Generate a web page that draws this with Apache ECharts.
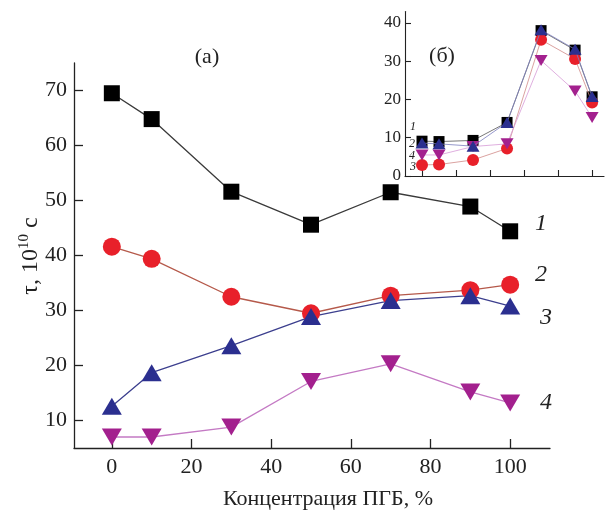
<!DOCTYPE html>
<html>
<head>
<meta charset="utf-8">
<script src="https://cdn.jsdelivr.net/npm/echarts@6/dist/echarts.min.js"></script>
<style>
  html, body { margin: 0; padding: 0; background: #fff; }
  #chart { width: 605px; height: 512px; }
</style>
</head>
<body>
<div id="chart"></div>
<script>
// концентрация ПГБ, %
const concentration = [0, 10, 30, 50, 70, 90, 100];
const xTicks = [0, 20, 40, 60, 80, 100];
const yTicksMain = [10, 20, 30, 40, 50, 60, 70];
const yTicksInset = [0, 10, 20, 30, 40];

// (а) tau, 10^10 c
const tau1 = [69.5, 64.8, 51.6, 45.6, 51.5, 48.9, 44.4];
const tau2 = [41.6, 39.4, 32.5, 29.5, 32.7, 33.7, 34.7];
const tau3 = [12.6, 18.7, 23.6, 28.9, 31.8, 32.7, 30.8];
const tau4 = [7.0, 7.0, 8.8, 17.1, 20.3, 15.2, 13.2];

// (б) inset
const inset1 = [9.1, 9.0, 9.3, 14.0, 38.0, 32.9, 20.7];
const inset2 = [2.9, 3.0, 4.2, 7.2, 35.6, 30.6, 19.2];
const inset3 = [8.6, 8.4, 7.8, 14.0, 38.2, 33.1, 20.8];
const inset4 = [5.5, 5.5, 7.7, 8.4, 30.2, 22.2, 15.3];

const serif = "Liberation Serif";
const pair = (ys) => concentration.map((x, i) => [x, ys[i]]);

const chart = echarts.init(document.getElementById("chart"));

function mainSeries(data, line, mark, symbol, size, rotate) {
  return {
    type: "line",
    xAxisIndex: 0,
    yAxisIndex: 0,
    data: pair(data),
    symbol: symbol,
    symbolSize: size,
    symbolRotate: rotate || 0,
    lineStyle: { color: line, width: 1.3 },
    itemStyle: { color: mark },
    animation: false,
  };
}

function insetSeries(data, line, mark, symbol, size, rotate, z) {
  return {
    type: "line",
    xAxisIndex: 1,
    yAxisIndex: 1,
    data: pair(data),
    symbol: symbol,
    symbolSize: size,
    symbolRotate: rotate || 0,
    z: z,
    lineStyle: { color: line, width: 0.8 },
    itemStyle: { color: mark },
    animation: false,
  };
}

const axisText = { fontFamily: serif, fontSize: 22, color: "#222" };

const option = {
  backgroundColor: "#fff",
  grid: [
    { left: 74, top: 63, width: 476, height: 385 },
    { left: 405, top: 11.5, width: 199, height: 164.5 },
  ],
  xAxis: [
    {
      gridIndex: 0,
      type: "value",
      min: -9.5,
      max: 110,
      splitLine: { show: false },
      axisLine: { onZero: false, lineStyle: { color: "#222", width: 1.3 } },
      axisTick: { inside: true, length: 9, customValues: xTicks, lineStyle: { color: "#222", width: 1.3 } },
      axisLabel: { customValues: xTicks, margin: 8, ...axisText },
    },
    {
      gridIndex: 1,
      type: "value",
      min: -10,
      max: 107,
      splitLine: { show: false },
      axisLine: { onZero: false, lineStyle: { color: "#222", width: 1.1 } },
      axisTick: { inside: true, length: 6, customValues: xTicks, lineStyle: { color: "#222", width: 1.1 } },
      axisLabel: { show: false },
    },
  ],
  yAxis: [
    {
      gridIndex: 0,
      type: "value",
      min: 5,
      max: 75,
      splitLine: { show: false },
      axisLine: { show: true, onZero: false, lineStyle: { color: "#222", width: 1.3 } },
      axisTick: { show: true, inside: true, length: 9, customValues: yTicksMain, lineStyle: { color: "#222", width: 1.3 } },
      axisLabel: { customValues: yTicksMain, margin: 7, ...axisText },
    },
    {
      gridIndex: 1,
      type: "value",
      min: 0,
      max: 43,
      splitLine: { show: false },
      axisLine: { show: true, onZero: false, lineStyle: { color: "#222", width: 1.1 } },
      axisTick: { show: true, inside: true, length: 6, customValues: yTicksInset, lineStyle: { color: "#222", width: 1.1 } },
      axisLabel: { customValues: yTicksInset, margin: 4, fontFamily: serif, fontSize: 17, color: "#222" },
    },
  ],
  series: [
    mainSeries(tau1, "#3a3a3a", "#000000", "rect", 16),
    mainSeries(tau2, "#b5594a", "#e8202a", "circle", 18),
    mainSeries(tau3, "#3c3f8e", "#2b2f8f", "triangle", [20, 17]),
    mainSeries(tau4, "#c47ac4", "#a3208e", "triangle", [20, 17], 180),
    insetSeries(inset1, "#555555", "#000000", "rect", 11, 0, 2),
    insetSeries(inset2, "#d08a88", "#e8202a", "circle", 12, 0, 3),
    insetSeries(inset4, "#d79ad7", "#a3208e", "triangle", [13, 11], 180, 4),
    insetSeries(inset3, "#7c7fbf", "#2b2f8f", "triangle", [13, 11], 0, 5),
  ],
  graphic: [
    {
      type: "text",
      x: 31,
      y: 256,
      rotation: Math.PI / 2,
      style: {
        text: "{a|τ, 10}{s|10}{a| с}",
        align: "center",
        verticalAlign: "middle",
        rich: {
          a: { fontFamily: serif, fontSize: 24, fill: "#222" },
          s: { fontFamily: serif, fontSize: 15, fill: "#222", padding: [0, 0, 13, 0] },
        },
      },
    },
    {
      type: "text",
      x: 328,
      y: 499,
      style: { text: "Концентрация ПГБ, %", fontFamily: serif, fontSize: 22, fill: "#222", align: "center", verticalAlign: "middle" },
    },
    {
      type: "text",
      x: 207,
      y: 57,
      style: { text: "(а)", fontFamily: serif, fontSize: 22, fill: "#222", align: "center", verticalAlign: "middle" },
    },
    {
      type: "text",
      x: 442,
      y: 56,
      style: { text: "(б)", fontFamily: serif, fontSize: 22, fill: "#222", align: "center", verticalAlign: "middle" },
    },
    // series labels
    { type: "text", x: 541, y: 224, style: { text: "1", fontFamily: serif, fontStyle: "italic", fontSize: 24, fill: "#222", align: "center", verticalAlign: "middle" } },
    { type: "text", x: 541, y: 275, style: { text: "2", fontFamily: serif, fontStyle: "italic", fontSize: 24, fill: "#222", align: "center", verticalAlign: "middle" } },
    { type: "text", x: 546, y: 318, style: { text: "3", fontFamily: serif, fontStyle: "italic", fontSize: 24, fill: "#222", align: "center", verticalAlign: "middle" } },
    { type: "text", x: 546, y: 403, style: { text: "4", fontFamily: serif, fontStyle: "italic", fontSize: 24, fill: "#222", align: "center", verticalAlign: "middle" } },
    // inset labels
    { type: "text", x: 413, y: 127, style: { text: "1", fontFamily: serif, fontStyle: "italic", fontSize: 12, fill: "#222", align: "center", verticalAlign: "middle" } },
    { type: "text", x: 412, y: 144, style: { text: "2", fontFamily: serif, fontStyle: "italic", fontSize: 12, fill: "#222", align: "center", verticalAlign: "middle" } },
    { type: "text", x: 412, y: 156, style: { text: "4", fontFamily: serif, fontStyle: "italic", fontSize: 12, fill: "#222", align: "center", verticalAlign: "middle" } },
    { type: "text", x: 413, y: 167, style: { text: "3", fontFamily: serif, fontStyle: "italic", fontSize: 12, fill: "#222", align: "center", verticalAlign: "middle" } },
  ],
};

chart.setOption(option);
window.addEventListener("resize", () => {
  chart.resize();
});
</script>
</body>
</html>
